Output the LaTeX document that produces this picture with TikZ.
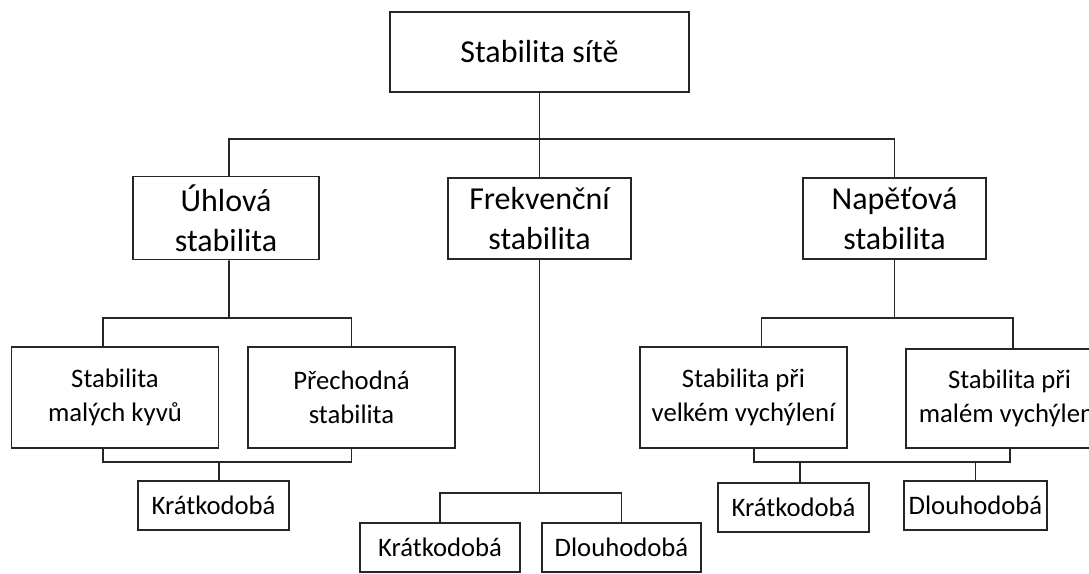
\documentclass[tikz,border=0pt]{standalone}
\usepackage{fontspec}
\setmainfont{Carlito}
\usepackage{tikz}
\usetikzlibrary{positioning, calc}

\begin{document}
\begin{tikzpicture}[
  x=0.02cm, y=-0.02cm,
  box/.style={rectangle, draw=black!85, line width=1.05pt, inner sep=0pt, align=center},
  bigbox/.style={box, font=\fontsize{18.2}{22.7}\selectfont},
  midbox/.style={box, font=\fontsize{15.2}{19.3}\selectfont, minimum width=4.14cm, minimum height=2.02cm},
  leaf/.style={box, font=\fontsize{15.2}{19.3}\selectfont, minimum height=0.98cm},
  link/.style={draw=black!85, line width=1.05pt},
]
  \useasboundingbox (0,0) rectangle (1089,574);
  \clip (0,0) rectangle (1089,574);

  % root
  \node[bigbox, minimum width=5.98cm, minimum height=1.6cm] (root) at (539.5,52) {Stabilita sítě};

  % second level
  \node[bigbox, minimum width=3.72cm, minimum height=1.66cm] (uhl) at (226,218) {Úhlová\\stabilita};
  \node[bigbox, minimum width=3.66cm, minimum height=1.62cm] (frek) at (539.5,218.5) {Frekvenční\\stabilita};
  \node[bigbox, minimum width=3.66cm, minimum height=1.62cm] (nap) at (894.5,218.5) {Napěťová\\stabilita};

  % third level
  \node[midbox] (smk) at (115,397.5) {Stabilita\\malých kyvů};
  \node[midbox] (pre) at (351.5,397.5) {Přechodná\\stabilita};
  \node[midbox] (svv) at (743.5,397.5) {Stabilita při\\velkém vychýlení};
  \node[midbox, minimum height=1.98cm] (smv) at (1009.5,398.5) {Stabilita při\\malém vychýlení};

  % leaves
  \node[leaf, minimum width=3.02cm] (kr1) at (213.5,505.5) {Krátkodobá};
  \node[leaf, minimum width=3.2cm] (kr2) at (440,547.5) {Krátkodobá};
  \node[leaf, minimum width=3.18cm] (dl2) at (621.5,547.5) {Dlouhodobá};
  \node[leaf, minimum width=3.02cm] (kr3) at (793.5,507.5) {Krátkodobá};
  \node[leaf, minimum width=2.86cm] (dl3) at (975.5,505.5) {Dlouhodobá};

  % buses
  \coordinate (bus1) at (539.5,139);
  \coordinate (bus2) at (229,318);
  \coordinate (bus3) at (894.5,318);
  \coordinate (bus4) at (539.5,493);
  \coordinate (bus5) at (219,462);
  \coordinate (bus6) at (800,462);

  \draw[link] (root.south) -- (bus1);
  \draw[link] ([xshift=0.06cm]uhl.north) |- (bus1) -| (nap.north);
  \draw[link] (bus1) -- (frek.north);

  \draw[link] ([xshift=0.06cm]uhl.south) -- (bus2);
  \draw[link] ([xshift=-0.24cm]smk.north) |- (bus2) -| (pre.north);
  \draw[link] (nap.south) -- (bus3);
  \draw[link] ([xshift=0.36cm]svv.north) |- (bus3) -| ([xshift=0.07cm]smv.north);
  \draw[link] (frek.south) -- (bus4);
  \draw[link] (kr2.north) |- (bus4) -| (dl2.north);

  \draw[link] ([xshift=-0.24cm]smk.south) |- (bus5) -| (pre.south);
  \draw[link] (bus5) -- ([xshift=0.11cm]kr1.north);
  \draw[link] ([xshift=0.21cm]svv.south) |- (bus6) -| ([xshift=0.01cm]smv.south);
  \draw[link] (bus6) -- ([xshift=0.13cm]kr3.north);
  \draw[link] (dl3.north) -- (dl3.north |- bus6);
\end{tikzpicture}
\end{document}
